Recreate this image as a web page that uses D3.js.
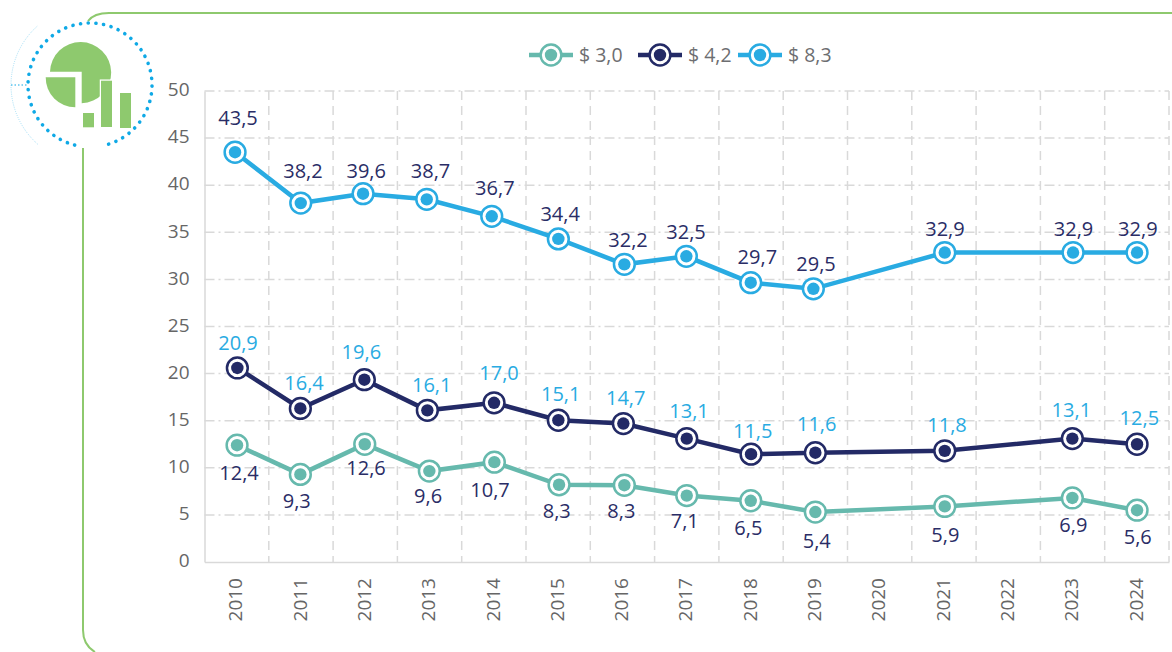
<!DOCTYPE html>
<html>
<head>
<meta charset="utf-8">
<script src="https://cdn.jsdelivr.net/npm/d3@7"></script>
<style>
  html, body { margin: 0; padding: 0; background: #fff; }
  svg { display: block; font-family: "Open Sans", sans-serif; }
</style>
</head>
<body>
<div id="chart"></div>
<script>
const years = ['2010','2011','2012','2013','2014','2015','2016','2017','2018','2019','2020','2021','2022','2023','2024'];
const yTicks = [0, 5, 10, 15, 20, 25, 30, 35, 40, 45, 50];
const seriesNames = ['$ 3,0', '$ 4,2', '$ 8,3'];

// Heights as the markers sit in the picture, they differ a little from the printed labels
const values30 = [12.4, 9.3, 12.5, 9.65, 10.6, 8.2, 8.15, 7.05, 6.5, 5.3, null, 5.9, null, 6.8, 5.5];
const values42 = [20.6, 16.3, 19.35, 16.1, 16.9, 15.05, 14.7, 13.1, 11.45, 11.6, null, 11.8, null, 13.1, 12.5];
const values83 = [43.5, 38.1, 39.1, 38.5, 36.7, 34.3, 31.6, 32.45, 29.65, 29.0, null, 32.85, null, 32.85, 32.85];

const labels30 = ['12,4','9,3','12,6','9,6','10,7','8,3','8,3','7,1','6,5','5,4',null,'5,9',null,'6,9','5,6'];
const labels42 = ['20,9','16,4','19,6','16,1','17,0','15,1','14,7','13,1','11,5','11,6',null,'11,8',null,'13,1','12,5'];
const labels83 = ['43,5','38,2','39,6','38,7','36,7','34,4','32,2','32,5','29,7','29,5',null,'32,9',null,'32,9','32,9'];

const width = 1172;
const height = 652;
const margin = { top: 91, right: 3, bottom: 90, left: 204.5 };
const innerWidth = width - margin.left - margin.right;
const innerHeight = height - margin.top - margin.bottom;

const gridColor = '#d9d9d9';
const tickColor = '#666';

const svg = d3.select('#chart')
  .append('svg')
  .attr('width', width)
  .attr('height', height)
  .attr('viewBox', `0 0 ${width} ${height}`);

// Green frame, it stops behind the logo
svg.append('path')
  .attr('d', 'M88,21 Q94,13 109,13 H1172 M83,148 V630 Q83,645 95,652')
  .attr('fill', 'none')
  .attr('stroke', '#8ec96e')
  .attr('stroke-width', 2);

drawLogo(svg.append('g'));

const chart = svg.append('g')
  .attr('transform', `translate(${margin.left},${margin.top})`);

const xScale = d3.scaleBand().domain(years).range([0, innerWidth]);
const yScale = d3.scaleLinear().domain([0, 50]).range([innerHeight, 0]);

// Grid: horizontal on the ticks, vertical on the band edges
chart.append('g')
  .selectAll('line')
  .data(yTicks.slice(1))
  .join('line')
    .attr('x1', 0)
    .attr('x2', innerWidth)
    .attr('y1', d => yScale(d))
    .attr('y2', d => yScale(d))
    .attr('stroke', gridColor)
    .attr('stroke-width', 1.5)
    .attr('stroke-dasharray', '10 4 2 4');

chart.append('g')
  .selectAll('line')
  .data(d3.range(1, years.length + 1))
  .join('line')
    .attr('x1', i => i * xScale.step())
    .attr('x2', i => i * xScale.step())
    .attr('y1', 0)
    .attr('y2', innerHeight)
    .attr('stroke', gridColor)
    .attr('stroke-width', 1.5)
    .attr('stroke-dasharray', '9 6');

const xAxis = chart.append('g')
  .attr('transform', `translate(0,${innerHeight})`)
  .call(d3.axisBottom(xScale).tickSize(0));
xAxis.select('.domain').attr('stroke', gridColor).attr('stroke-width', 1.5);
xAxis.selectAll('text')
  .attr('transform', 'rotate(-90)')
  .attr('x', -16)
  .attr('y', -1)
  .attr('dy', '0.35em')
  .attr('text-anchor', 'end')
  .attr('font-size', 19)
  .attr('font-family', '"Open Sans", sans-serif')
  .attr('fill', tickColor);

const yAxis = chart.append('g')
  .call(d3.axisLeft(yScale).tickValues(yTicks).tickSize(0).tickPadding(15));
yAxis.select('.domain').attr('stroke', gridColor).attr('stroke-width', 1.5);
yAxis.selectAll('text')
  .attr('dy', '0.25em')
  .attr('font-size', 19)
  .attr('font-family', '"Open Sans", sans-serif')
  .attr('fill', tickColor);

// The markers and labels were placed by hand in the original, so each has its own nudge
const series = [
  { values: values30, labels: labels30, color: '#66b9ad', labelColor: '#2a2d66',
    markDx: [0.4, -0.6, -0.5, -0.2, 0.5, 0.9, 1.9, 0, -0.3, 0, 0, 0.8, 0, -0.2, 0.2],
    labelDx: [2.4, -4.2, 0.8, -1.5, -3.8, -1.4, -1.1, -2, -2.7, 1.4, 0, 1.4, 0, 0.8, 0.9],
    labelDy: [27.4, 26.7, 24, 24.7, 28, 26.3, 25.7, 25.3, 27.3, 28.7, 0, 28.3, 0, 27.3, 26.7] },
  { values: values42, labels: labels42, color: '#232a66', labelColor: '#29abe2',
    markDx: [0.7, -0.6, -0.9, -2.2, 0.2, 0.2, 0.9, 0, 0, 0, 0, 0.8, 0, -0.2, 0.2],
    labelDx: [1.4, 3.1, -3.9, 2.2, 5.2, 2.6, 3.3, 2.3, 1.7, 1.4, 0, 3.1, 0, -1.2, 2.5],
    labelDy: [-25, -25.6, -27.7, -25, -29.4, -26.7, -26, -28, -23, -28.4, 0, -26, 0, -29, -26.6] },
  { values: values83, labels: labels83, color: '#29abe2', labelColor: '#2a2d66',
    markDx: [-1.6, -0.2, -2.2, -2.8, -2.1, 0.2, 1.9, -0.4, -0.3, -2, 0, 0.8, 0, 0.5, 0.2],
    labelDx: [1.4, 2, 1, 1, 1, 2, 5.6, -0.7, 6.3, 0.7, 0, 1, 0, 1, 1],
    labelDy: [-34, -32, -22.6, -28.6, -28.4, -25, -24, -24, -26, -25, 0, -24, 0, -24, -24] },
];

const line = d3.line()
  .x(d => d.x)
  .y(d => d.y);

series.forEach(s => {
  // Years without a value are skipped, the line runs straight over them
  const points = s.values
    .map((value, i) => ({
      x: xScale(years[i]) + xScale.bandwidth() / 2 + s.markDx[i],
      y: yScale(value),
      value,
      label: s.labels[i],
      labelX: xScale(years[i]) + xScale.bandwidth() / 2 + s.labelDx[i],
      labelY: yScale(value) + s.labelDy[i],
    }))
    .filter(d => d.value != null);

  chart.append('path')
    .datum(points)
    .attr('d', line)
    .attr('fill', 'none')
    .attr('stroke', s.color)
    .attr('stroke-width', 4.5);

  const marks = chart.append('g')
    .selectAll('g')
    .data(points)
    .join('g')
      .attr('transform', d => `translate(${d.x},${d.y})`);

  drawMarker(marks, s.color);

  chart.append('g')
    .selectAll('text')
    .data(points)
    .join('text')
      .attr('x', d => d.labelX)
      .attr('y', d => d.labelY)
      .attr('dy', '0.35em')
      .attr('text-anchor', 'middle')
      .attr('font-size', 20)
      .attr('fill', s.labelColor)
      .text(d => d.label);
});

// Legend
const legendX = [529, 638, 738];
const legend = svg.append('g')
  .selectAll('g')
  .data(series)
  .join('g')
    .attr('transform', (d, i) => `translate(${legendX[i]},55)`);

legend.append('line')
  .attr('x1', 0)
  .attr('x2', 44)
  .attr('stroke', d => d.color)
  .attr('stroke-width', 4.5);
legend.each(function (d) {
  const mark = d3.select(this).append('g').attr('transform', 'translate(22,0)');
  drawMarker(mark, d.color);
});
legend.append('text')
  .attr('x', 50)
  .attr('dy', '0.35em')
  .attr('font-size', 19.5)
  .attr('fill', '#6d6e71')
  .text((d, i) => seriesNames[i]);

function drawMarker(sel, color) {
  sel.append('circle')
    .attr('r', 10.4)
    .attr('fill', '#fff')
    .attr('stroke', color)
    .attr('stroke-width', 2.5);
  sel.append('circle')
    .attr('r', 6.2)
    .attr('fill', color);
}

function drawLogo(g) {
  const green = '#8ec96e';
  const blue = '#0fa9e6';
  const cx = 90;
  const cy = 85;

  // Dotted ring, open at the bottom where the frame comes out
  const ring = d3.path();
  ring.arc(cx, cy, 62, Math.PI / 2 + 0.25, Math.PI * 2.5 - 0.25);
  g.append('path')
    .attr('d', ring.toString())
    .attr('fill', 'none')
    .attr('stroke', blue)
    .attr('stroke-width', 3.6)
    .attr('stroke-linecap', 'round')
    .attr('stroke-dasharray', '0.1 7.6');

  // Faint outer arc on the left side
  const outer = d3.path();
  outer.arc(cx, cy, 79, Math.PI * 0.73, Math.PI * 1.27);
  g.append('path')
    .attr('d', outer.toString())
    .attr('fill', 'none')
    .attr('stroke', '#8fd6f3')
    .attr('stroke-width', 0.8)
    .attr('stroke-dasharray', '1 1.2');
  g.append('line')
    .attr('x1', 11).attr('x2', 27).attr('y1', cy).attr('y2', cy)
    .attr('stroke', blue).attr('stroke-dasharray', '1.5 2');

  // Pie with one detached slice
  g.append('path')
    .attr('d', 'M50,71.7 A30.6,30.6 0 1 1 81.7,103.2 V71.7 Z')
    .attr('fill', green);
  g.append('path')
    .attr('d', 'M45.7,77.3 H75.3 V107.3 A29.6,29.6 0 0 1 45.7,77.3 Z')
    .attr('fill', green);

  // Little bars, white edge cuts them out of the pie
  const bars = [[83, 113, 11, 14.3], [101, 80.7, 11, 46.3], [120, 93, 11, 35]];
  g.selectAll('rect.bar')
    .data(bars)
    .join('rect')
      .attr('class', 'bar')
      .attr('x', d => d[0])
      .attr('y', d => d[1])
      .attr('width', d => d[2])
      .attr('height', d => d[3])
      .attr('fill', green)
      .attr('stroke', '#fff')
      .attr('stroke-width', 2.5)
      .attr('paint-order', 'stroke');
}
</script>
</body>
</html>
